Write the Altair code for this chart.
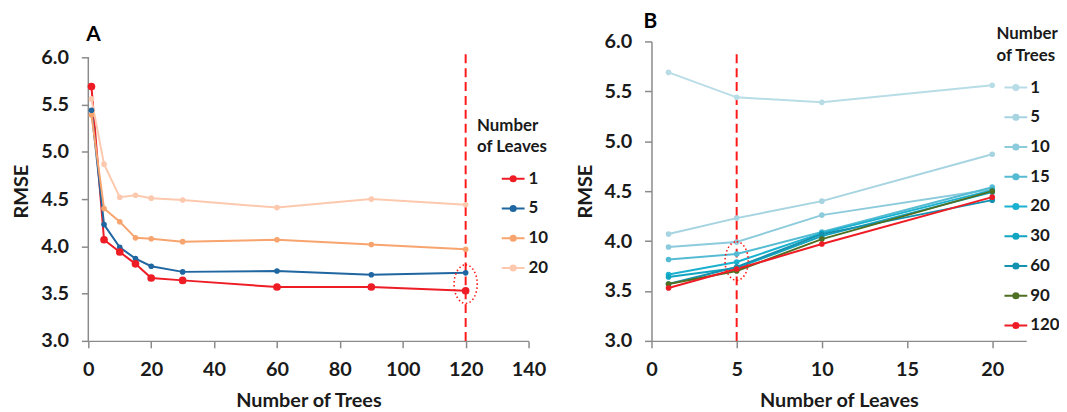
import altair as alt
import pandas as pd

# ---- data ----
trees = [1, 5, 10, 15, 20, 30, 60, 90, 120]
leaves = [1, 5, 10, 20]
rmse_leaves_1 = [5.69, 4.07, 3.94, 3.815, 3.665, 3.64, 3.57, 3.57, 3.53]
rmse_leaves_5 = [5.44, 4.23, 3.99, 3.87, 3.79, 3.73, 3.74, 3.70, 3.72]
rmse_leaves_10 = [5.39, 4.40, 4.26, 4.09, 4.08, 4.05, 4.07, 4.02, 3.97]
rmse_leaves_20 = [5.56, 4.87, 4.52, 4.54, 4.51, 4.49, 4.41, 4.50, 4.44]

x_ticks_a = [0, 20, 40, 60, 80, 100, 120, 140]
x_ticks_b = [0, 5, 10, 15, 20]
y_ticks = [3.0, 3.5, 4.0, 4.5, 5.0, 5.5, 6.0]
panel_labels = ["A", "B"]

chosen_trees = 120      # highlighted in panel A
chosen_leaves = 5       # highlighted in panel B
marker_rmse_a = 3.60    # centre of dotted ellipse A
marker_rmse_b = 3.80    # centre of dotted ellipse B
dash_top_a = 6.08
dash_top_b = 5.88

leaf_colors = ["#EE1C25", "#2066A0", "#F8A46E", "#FCC9AE"]
tree_colors = ["#B9DDE7", "#A6D4E1", "#8CCBDC", "#54BBD3", "#1AB1D0",
               "#12A5C2", "#1391AF", "#4F6F22", "#EE1C25"]

series = [rmse_leaves_1, rmse_leaves_5, rmse_leaves_10, rmse_leaves_20]
rows = []
for lf, vals in zip(leaves, series):
    for t, v in zip(trees, vals):
        rows.append({"trees": t, "leaves": lf, "rmse": v})
df = pd.DataFrame(rows)
df_a_points = df.sort_values("leaves", ascending=False)

FONT = "Lato"
AXIS_GRAY = "#8a8a8a"
TXT = "#1a1a1a"

# legend symbol: short line with a dot in the middle (stroke only)
half = 11.5
parts = ["M-1,0L1,0"]
for r in (0.6, 1.6, 2.6):
    u = r / half
    parts.append(f"M{-u:.4f},0a{u:.4f},{u:.4f} 0 1,0 {2*u:.4f},0a{u:.4f},{u:.4f} 0 1,0 {-2*u:.4f},0")
legend_symbol = "".join(parts)
legend_size = (2 * half) ** 2

ellipse_path = "M0,-1A0.6,1 0 1,1 0,1A0.6,1 0 1,1 0,-1Z"
ellipse_size = 39 ** 2


def panel_letter(letter, dx, dy):
    return alt.Chart(pd.DataFrame({"label": [letter]})).mark_text(
        align="left", baseline="alphabetic", fontSize=21, fontWeight="bold",
        font=FONT, color="black").encode(text="label:N", x=alt.value(dx), y=alt.value(dy))


# ---------------- Panel A ----------------
ya_dom = [3.0, 3.0 + 302 / 95.33]
xa_scale = alt.Scale(domain=[0, 140], nice=False)
ya_scale = alt.Scale(domain=ya_dom, nice=False, zero=False)
xa_axis = alt.Axis(values=x_ticks_a, title="Number of Trees")
ya_axis = alt.Axis(values=y_ticks, format=".1f", title="RMSE", domain=False)


def XA(f):
    return alt.X(f"{f}:Q", scale=xa_scale, axis=xa_axis)


def YA(f):
    return alt.Y(f"{f}:Q", scale=ya_scale, axis=ya_axis)


legend_a = alt.Legend(orient="none", legendX=392, legendY=77, title=["Number", "of Leaves"],
                      symbolType=legend_symbol, symbolSize=legend_size, symbolOffset=24,
                      symbolStrokeWidth=2, rowPadding=9, labelOffset=3, titlePadding=10)
color_a = alt.Color("leaves:O", scale=alt.Scale(domain=leaves, range=leaf_colors), legend=legend_a)

axis_a_df = pd.DataFrame({"trees": [0], "rmse": [3.0], "rmse_hi": [6.0]})
dash_a_df = pd.DataFrame({"trees": [chosen_trees], "rmse": [3.0], "rmse_hi": [dash_top_a]})
ell_a_df = pd.DataFrame({"trees": [chosen_trees], "rmse": [marker_rmse_a]})

a_axisline = alt.Chart(axis_a_df).mark_rule(color=AXIS_GRAY, strokeWidth=1.5).encode(
    x=XA("trees"), y=YA("rmse"), y2="rmse_hi:Q")
a_dash = alt.Chart(dash_a_df).mark_rule(color="#FF1A1A", strokeWidth=2, strokeDash=[9, 5]).encode(
    x=XA("trees"), y=YA("rmse"), y2="rmse_hi:Q")
a_lines = alt.Chart(df).mark_line(strokeWidth=2).encode(
    x=XA("trees"), y=YA("rmse"), color=color_a, detail="leaves:N")
a_points = alt.Chart(df_a_points).mark_circle(opacity=1).encode(
    x=XA("trees"), y=YA("rmse"), color=color_a,
    size=alt.condition(alt.datum.leaves == 1, alt.value(60), alt.value(32)))
a_ell = alt.Chart(ell_a_df).mark_point(shape=ellipse_path, size=ellipse_size, filled=False,
                                       color="#FF1A1A", strokeWidth=1.6, strokeDash=[1.5, 2.5],
                                       opacity=1).encode(x=XA("trees"), y=YA("rmse"))

panel_a = alt.layer(a_axisline, a_dash, a_lines, a_points, a_ell,
                    panel_letter(panel_labels[0], -2, 0)).properties(width=444, height=302)

# ---------------- Panel B ----------------
xb_scale = alt.Scale(domain=[0, 22], nice=False)
yb_scale = alt.Scale(domain=[3.0, 6.0], nice=False, zero=False)
xb_axis = alt.Axis(values=x_ticks_b, title="Number of Leaves")
yb_axis = alt.Axis(values=y_ticks, format=".1f", title="RMSE")


def XB(f):
    return alt.X(f"{f}:Q", scale=xb_scale, axis=xb_axis)


def YB(f):
    return alt.Y(f"{f}:Q", scale=yb_scale, axis=yb_axis)


legend_b = alt.Legend(orient="none", legendX=348, legendY=-15, title=["Number", "of Trees"],
                      symbolType=legend_symbol, symbolSize=legend_size, symbolOffset=7,
                      symbolStrokeWidth=2, rowPadding=9, labelOffset=2, titlePadding=10)
color_b = alt.Color("trees:O", scale=alt.Scale(domain=trees, range=tree_colors), legend=legend_b)

dash_b_df = pd.DataFrame({"leaves": [chosen_leaves], "rmse": [3.0], "rmse_hi": [dash_top_b]})
ell_b_df = pd.DataFrame({"leaves": [chosen_leaves], "rmse": [marker_rmse_b]})

b_dash = alt.Chart(dash_b_df).mark_rule(color="#FF1A1A", strokeWidth=2, strokeDash=[9, 5]).encode(
    x=XB("leaves"), y=YB("rmse"), y2="rmse_hi:Q")
b_lines = alt.Chart(df).mark_line(strokeWidth=2).encode(
    x=XB("leaves"), y=YB("rmse"), color=color_b, detail="trees:N")
b_points = alt.Chart(df).mark_circle(opacity=1, size=32).encode(
    x=XB("leaves"), y=YB("rmse"), color=color_b)
b_ell = alt.Chart(ell_b_df).mark_point(shape=ellipse_path, size=ellipse_size, filled=False,
                                       color="#FF1A1A", strokeWidth=1.6, strokeDash=[1.5, 2.5],
                                       opacity=1).encode(x=XB("leaves"), y=YB("rmse"))

panel_b = alt.layer(b_dash, b_lines, b_points, b_ell,
                    panel_letter(panel_labels[1], -8, -14)).properties(width=378, height=302)

chart = alt.hconcat(panel_a, panel_b, spacing=124, bounds="flush").resolve_scale(
    color="independent", x="independent", y="independent"
).properties(
    padding={"left": 4, "top": 1, "right": -1, "bottom": 0}
).configure(font=FONT).configure_view(stroke=None).configure_axis(
    labelFont=FONT, titleFont=FONT, labelFontSize=20, labelFontWeight="bold", labelColor=TXT,
    titleFontSize=20, titleFontWeight="bold", titleColor=TXT,
    domainColor=AXIS_GRAY, tickColor=AXIS_GRAY, domainWidth=1.5, tickWidth=1.5,
    tickSize=7, labelPadding=12, grid=False, labelFlush=False
).configure_axisX(titlePadding=11).configure_axisY(titlePadding=9, labelPadding=13).configure_legend(
    titleFont=FONT, labelFont=FONT, titleFontSize=17, titleFontWeight="bold", titleColor=TXT,
    labelFontSize=17, labelFontWeight="bold", labelColor=TXT, titleLineHeight=22, padding=0
)

chart.save("out.html", embed_options={"renderer": "svg", "actions": False})
